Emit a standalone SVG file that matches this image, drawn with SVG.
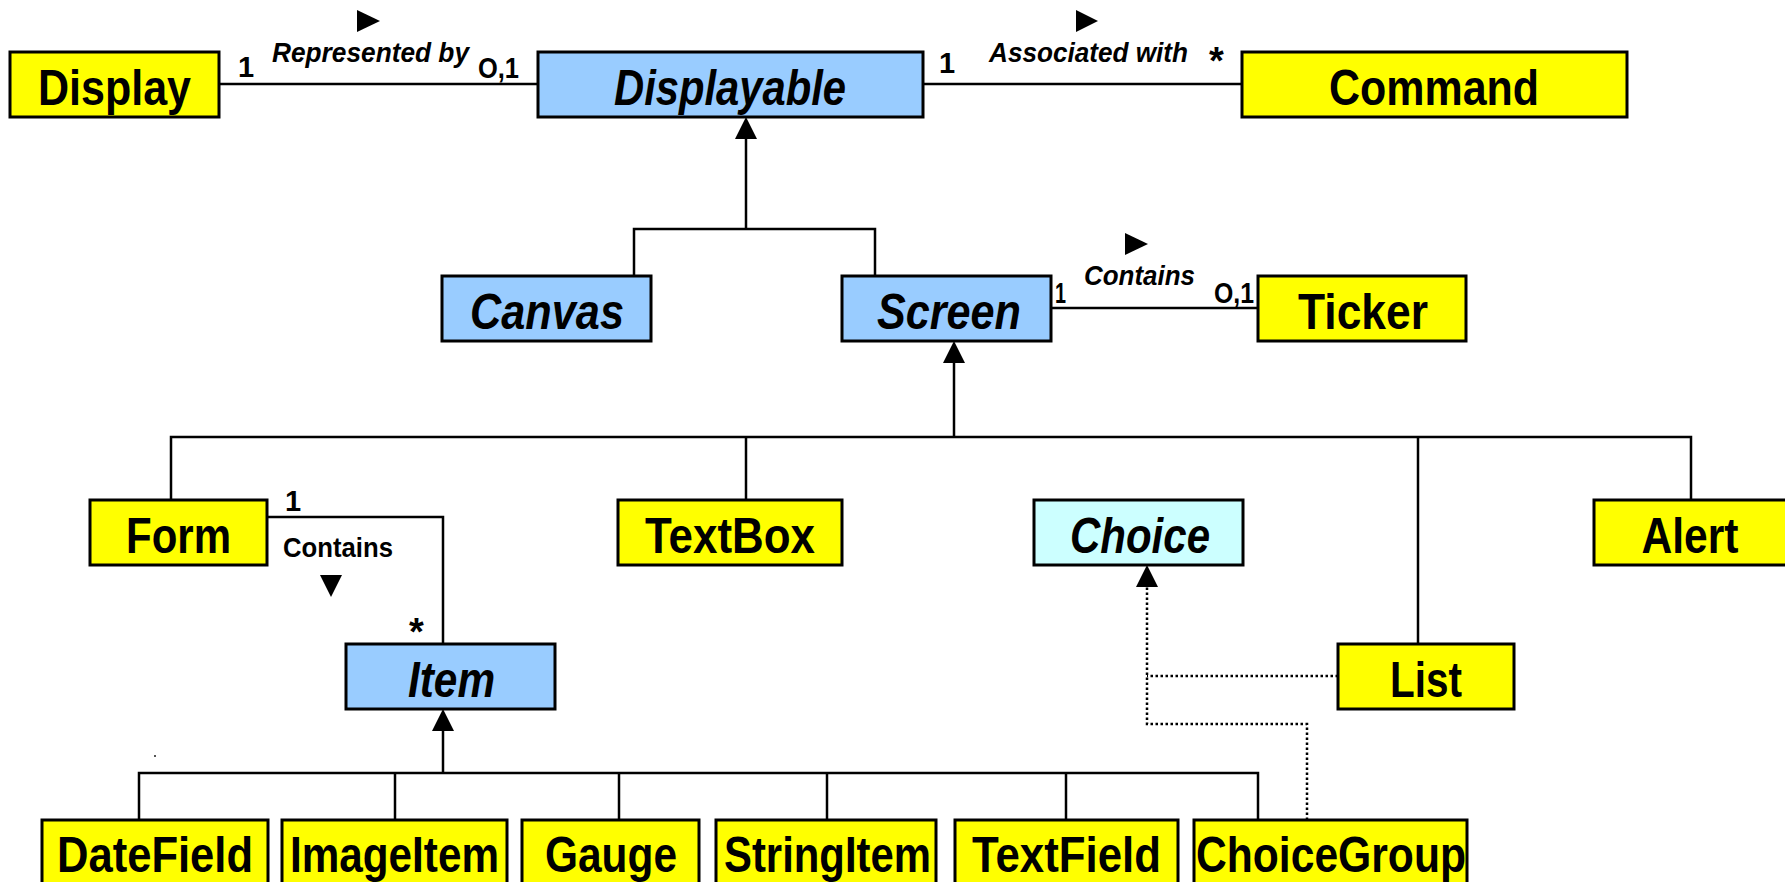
<svg xmlns="http://www.w3.org/2000/svg" width="1785" height="882" viewBox="0 0 1785 882">
  <style>
    .box { stroke: #000; stroke-width: 3; }
    .concrete { fill: #FFFF00; }
    .abstract { fill: #99CCFF; }
    .iface { fill: #CCFFFF; }
    .name { font-family: "Liberation Sans", Arial, sans-serif; font-weight: bold; font-size: 50px; fill: #000; text-anchor: middle; }
    .italic { font-style: italic; }
    .lbl { font-family: "Liberation Sans", Arial, sans-serif; font-weight: bold; font-size: 28px; fill: #000; }
    .mult { font-family: "Liberation Sans", Arial, sans-serif; font-weight: bold; font-size: 29px; fill: #000; }
    .star { font-family: "Liberation Sans", Arial, sans-serif; font-weight: bold; font-size: 38px; fill: #000; }
    .wire { stroke: #000; stroke-width: 2.5; fill: none; }
    .dotted { stroke: #000; stroke-width: 2.5; fill: none; stroke-dasharray: 2.5 2.5; }
    .tri { fill: #000; }
  </style>
  <defs>
    <!-- filled generalization / realization head; line ends at the base -->
    <marker id="head" viewBox="0 0 22 22" refX="0" refY="11" markerWidth="22" markerHeight="22" markerUnits="userSpaceOnUse" orient="auto">
      <path d="M0,0 L22,11 L0,22 z" fill="#000"/>
    </marker>
  </defs>

  <rect width="1785" height="882" fill="#fff"/>

  <!-- connectors -->
  <g id="connectors">
    <!-- associations -->
    <line class="wire" x1="219" y1="84" x2="538" y2="84"/>
    <line class="wire" x1="923" y1="84" x2="1242" y2="84"/>
    <line class="wire" x1="1051" y1="308" x2="1258" y2="308"/>
    <path class="wire" d="M267 517 H443 V644"/>

    <!-- Canvas / Screen extend Displayable -->
    <path class="wire" d="M634 276 V229 H875 V276"/>
    <line class="wire" x1="746" y1="229" x2="746" y2="139" marker-end="url(#head)"/>

    <!-- Screen subclasses -->
    <path class="wire" d="M171 500 V437 H1691 V500"/>
    <line class="wire" x1="746" y1="437" x2="746" y2="500"/>
    <line class="wire" x1="1418" y1="437" x2="1418" y2="644"/>
    <line class="wire" x1="954" y1="437" x2="954" y2="363" marker-end="url(#head)"/>

    <!-- Item subclasses -->
    <path class="wire" d="M139 820 V773 H1258 V820"/>
    <line class="wire" x1="395" y1="773" x2="395" y2="820"/>
    <line class="wire" x1="619" y1="773" x2="619" y2="820"/>
    <line class="wire" x1="827" y1="773" x2="827" y2="820"/>
    <line class="wire" x1="1066" y1="773" x2="1066" y2="820"/>
    <line class="wire" x1="443" y1="773" x2="443" y2="731" marker-end="url(#head)"/>

    <!-- Choice realizations -->
    <path class="dotted" d="M1307 820 V724 H1147 V587" marker-end="url(#head)"/>
    <line class="dotted" x1="1338" y1="676" x2="1147" y2="676"/>

    <!-- association labels and multiplicities -->
    <polygon class="tri" points="357,10 380,21 357,32"/>
    <text class="mult" x="238" y="77">1</text>
    <text class="lbl italic" x="272" y="62" textLength="197" lengthAdjust="spacingAndGlyphs">Represented by</text>
    <text class="mult" x="478" y="78" textLength="41" lengthAdjust="spacingAndGlyphs">O,1</text>

    <polygon class="tri" points="1076,10 1098,21 1076,32"/>
    <text class="mult" x="939" y="73">1</text>
    <text class="lbl italic" x="989" y="62" textLength="199" lengthAdjust="spacingAndGlyphs">Associated with</text>
    <text class="star" x="1209" y="74">*</text>

    <polygon class="tri" points="1125,233 1148,244 1125,255"/>
    <text class="lbl italic" x="1084" y="285" textLength="111" lengthAdjust="spacingAndGlyphs">Contains</text>
    <text class="mult" x="1055" y="303" textLength="11" lengthAdjust="spacingAndGlyphs">1</text>
    <text class="mult" x="1214" y="303" textLength="40" lengthAdjust="spacingAndGlyphs">O,1</text>

    <text class="mult" x="285" y="511">1</text>
    <text class="lbl" x="283" y="557" textLength="110" lengthAdjust="spacingAndGlyphs">Contains</text>
    <polygon class="tri" points="320,575 342,575 331,597"/>
    <text class="star" x="409" y="645">*</text>
  </g>

  <!-- classes -->
  <g id="Display">
    <rect class="box concrete" x="10" y="52" width="209" height="65"/>
    <text class="name" x="114.5" y="105" textLength="153" lengthAdjust="spacingAndGlyphs">Display</text>
  </g>
  <g id="Displayable">
    <rect class="box abstract" x="538" y="52" width="385" height="65"/>
    <text class="name italic" x="730" y="105" textLength="232" lengthAdjust="spacingAndGlyphs">Displayable</text>
  </g>
  <g id="Command">
    <rect class="box concrete" x="1242" y="52" width="385" height="65"/>
    <text class="name" x="1434" y="105" textLength="210" lengthAdjust="spacingAndGlyphs">Command</text>
  </g>

  <g id="Canvas">
    <rect class="box abstract" x="442" y="276" width="209" height="65"/>
    <text class="name italic" x="547" y="329" textLength="154" lengthAdjust="spacingAndGlyphs">Canvas</text>
  </g>
  <g id="Screen">
    <rect class="box abstract" x="842" y="276" width="209" height="65"/>
    <text class="name italic" x="949" y="329" textLength="144" lengthAdjust="spacingAndGlyphs">Screen</text>
  </g>
  <g id="Ticker">
    <rect class="box concrete" x="1258" y="276" width="208" height="65"/>
    <text class="name" x="1363" y="329" textLength="130" lengthAdjust="spacingAndGlyphs">Ticker</text>
  </g>

  <g id="Form">
    <rect class="box concrete" x="90" y="500" width="177" height="65"/>
    <text class="name" x="178.5" y="553" textLength="105" lengthAdjust="spacingAndGlyphs">Form</text>
  </g>
  <g id="TextBox">
    <rect class="box concrete" x="618" y="500" width="224" height="65"/>
    <text class="name" x="730" y="553" textLength="170" lengthAdjust="spacingAndGlyphs">TextBox</text>
  </g>
  <g id="Choice">
    <rect class="box iface" x="1034" y="500" width="209" height="65"/>
    <text class="name italic" x="1140" y="553" textLength="140" lengthAdjust="spacingAndGlyphs">Choice</text>
  </g>
  <g id="Alert">
    <rect class="box concrete" x="1594" y="500" width="196" height="65"/>
    <text class="name" x="1690" y="553" textLength="97" lengthAdjust="spacingAndGlyphs">Alert</text>
  </g>

  <g id="Item">
    <rect class="box abstract" x="346" y="644" width="209" height="65"/>
    <text class="name italic" x="451.5" y="697" textLength="87" lengthAdjust="spacingAndGlyphs">Item</text>
  </g>
  <g id="List">
    <rect class="box concrete" x="1338" y="644" width="176" height="65"/>
    <text class="name" x="1426" y="697" textLength="72" lengthAdjust="spacingAndGlyphs">List</text>
  </g>

  <g id="DateField">
    <rect class="box concrete" x="42" y="820" width="226" height="75"/>
    <text class="name" x="155" y="872" textLength="196" lengthAdjust="spacingAndGlyphs">DateField</text>
  </g>
  <g id="ImageItem">
    <rect class="box concrete" x="282" y="820" width="225" height="75"/>
    <text class="name" x="394.5" y="872" textLength="209" lengthAdjust="spacingAndGlyphs">ImageItem</text>
  </g>
  <g id="Gauge">
    <rect class="box concrete" x="522" y="820" width="177" height="75"/>
    <text class="name" x="611" y="872" textLength="132" lengthAdjust="spacingAndGlyphs">Gauge</text>
  </g>
  <g id="StringItem">
    <rect class="box concrete" x="716" y="820" width="220" height="75"/>
    <text class="name" x="827.5" y="872" textLength="207" lengthAdjust="spacingAndGlyphs">StringItem</text>
  </g>
  <g id="TextField">
    <rect class="box concrete" x="955" y="820" width="223" height="75"/>
    <text class="name" x="1066.5" y="872" textLength="189" lengthAdjust="spacingAndGlyphs">TextField</text>
  </g>
  <g id="ChoiceGroup">
    <rect class="box concrete" x="1194" y="820" width="273" height="75"/>
    <text class="name" x="1331" y="872" textLength="270" lengthAdjust="spacingAndGlyphs">ChoiceGroup</text>
  </g>

  <!-- stray speck -->
  <rect x="154" y="755" width="2" height="2" fill="#555"/>
</svg>
